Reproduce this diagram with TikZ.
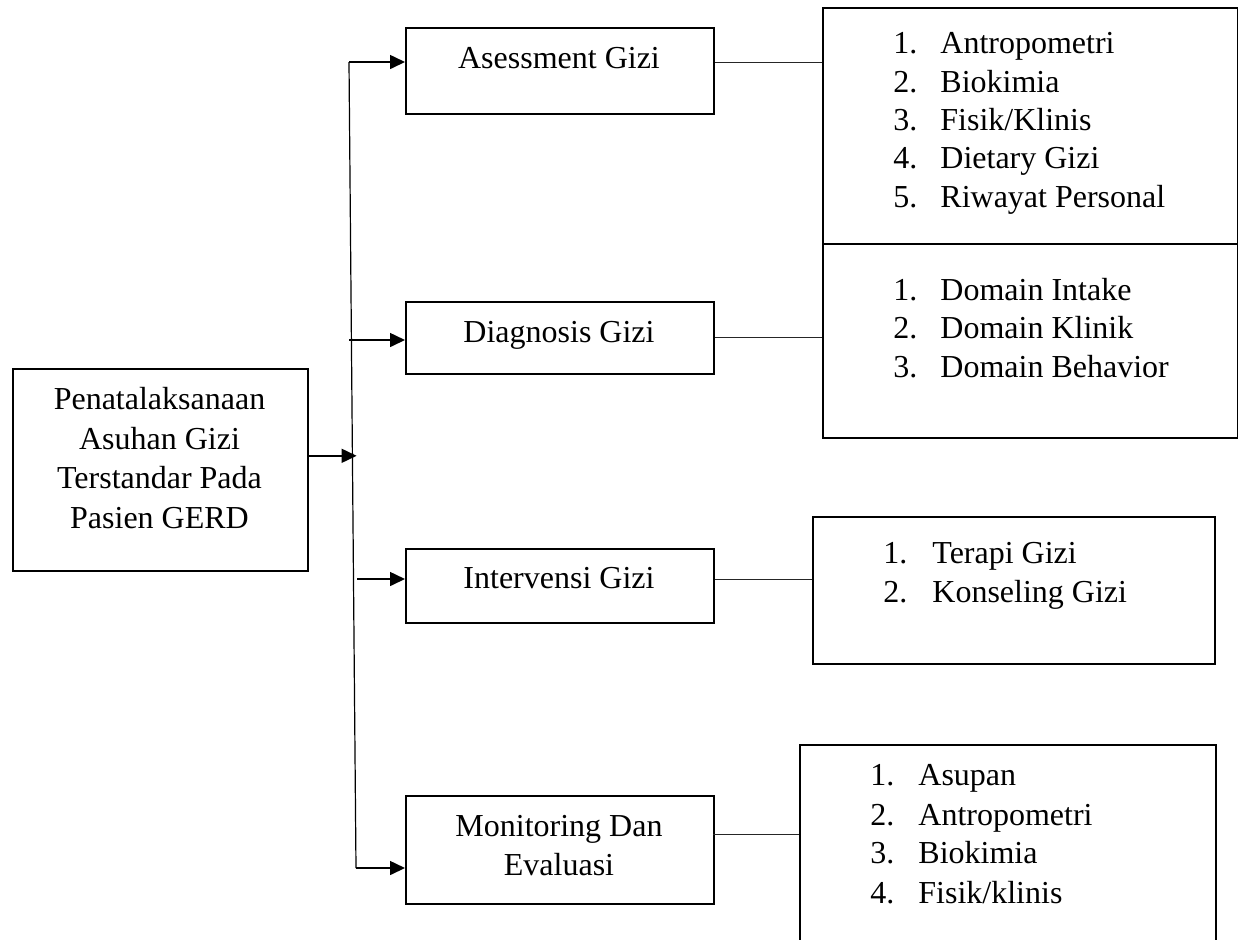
\documentclass[tikz,border=0pt]{standalone}
\usepackage{fontspec}
\setmainfont{Liberation Serif}
\usetikzlibrary{arrows.meta}
\begin{document}
\begin{tikzpicture}[x=0.5pt,y=-0.5pt,
  box/.style={draw, line width=0.8pt, inner sep=0pt, anchor=north west},
  txt/.style={font=\fontsize{16}{19.5}\selectfont, inner sep=0pt, anchor=base},
  item/.style={font=\fontsize{16}{19.5}\selectfont, inner sep=0pt, anchor=base west},
  arr/.style={line width=0.8pt, -{Triangle[length=7.5pt,width=7pt]}},
  trunk/.style={line width=0.6pt},
  link/.style={line width=0.5pt, black!85}]
\clip (0,0) rectangle (1238,939);
\fill[white] (0,0) rectangle (1238,939);
% boxes
\node[box, minimum width={295*0.5pt}, minimum height={202*0.5pt}] (main) at (12,368) {};
\node[box, minimum width={308*0.5pt}, minimum height={86*0.5pt}] (as) at (405,27) {};
\node[box, minimum width={308*0.5pt}, minimum height={72*0.5pt}] (dg) at (405,301) {};
\node[box, minimum width={308*0.5pt}, minimum height={74*0.5pt}] (iv) at (405,548) {};
\node[box, minimum width={308*0.5pt}, minimum height={108*0.5pt}] (me) at (405,795) {};
\node[box, minimum width={415*0.5pt}, minimum height={236*0.5pt}] (l1) at (822,7) {};
\node[box, minimum width={415*0.5pt}, minimum height={194*0.5pt}] (l2) at (822,243) {};
\node[box, minimum width={402*0.5pt}, minimum height={147*0.5pt}] (l3) at (812,516) {};
\node[box, minimum width={416*0.5pt}, minimum height={230*0.5pt}] (l4) at (799,744) {};
% box texts
\node[txt] (mt1) at (159.5,409) {Penatalaksanaan};
\node[txt] (mt2) at (159.5,449) {Asuhan Gizi};
\node[txt] (mt3) at (159.5,488) {Terstandar Pada};
\node[txt] (mt4) at (159.5,528) {Pasien GERD};
\node[txt] (ast) at (559,68) {Asessment Gizi};
\node[txt] (dgt) at (559,342) {Diagnosis Gizi};
\node[txt] (ivt) at (559,588) {Intervensi Gizi};
\node[txt] (met1) at (559,836) {Monitoring Dan};
\node[txt] (met2) at (559,875) {Evaluasi};
% lists
\foreach \n/\t/\y in {1/Antropometri/53, 2/Biokimia/92, 3/Fisik\slash Klinis/130, 4/Dietary Gizi/168, 5/Riwayat Personal/207}{
  \node[item] (an\n) at (893,\y) {\n.};
  \node[item] (at\n) at (940,\y) {\t};
}
\foreach \n/\t/\y in {1/Domain Intake/300, 2/Domain Klinik/338, 3/Domain Behavior/377}{
  \node[item] (dn\n) at (893,\y) {\n.};
  \node[item] (dt\n) at (940,\y) {\t};
}
\foreach \n/\t/\y in {1/Terapi Gizi/563, 2/Konseling Gizi/602}{
  \node[item] (in\n) at (883,\y) {\n.};
  \node[item] (it\n) at (932,\y) {\t};
}
\foreach \n/\t/\y in {1/Asupan/785, 2/Antropometri/825, 3/Biokimia/863, 4/Fisik\slash klinis/903}{
  \node[item] (mn\n) at (870,\y) {\n.};
  \node[item] (mt\n) at (918,\y) {\t};
}
% connectors
\coordinate (top) at (349,62);
\coordinate (d0) at (349,340);
\coordinate (i0) at (357,579);
\coordinate (b0) at (356,868);
\coordinate (m4) at (713,834);
\draw[trunk] (top) -- (b0);
\draw[arr] (top) -- (top -| as.west);
\draw[arr] (d0) -- (d0 -| dg.west);
\draw[arr] (i0) -- (i0 -| iv.west);
\draw[arr] (b0) -- (b0 -| me.west);
\draw[arr] ([yshift=7pt]main.east) -- ++(48,0);
\draw[link] (top -| as.east) -- (top -| l1.west);
\draw[link] (dg.east) -- (dg.east -| l2.west);
\draw[link] (i0 -| iv.east) -- (i0 -| l3.west);
\draw[link] (m4) -- (m4 -| l4.west);
\end{tikzpicture}
\end{document}
